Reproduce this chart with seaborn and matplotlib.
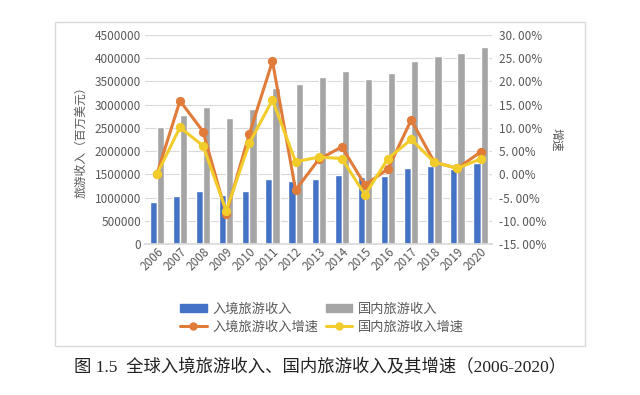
import numpy as np
import pandas as pd
import matplotlib
matplotlib.use("Agg")
import matplotlib.pyplot as plt
from matplotlib.patches import Rectangle
from matplotlib.lines import Line2D
import seaborn as sns

# data
years = [str(y) for y in range(2006, 2021)]
inbound = [900000, 1040000, 1140000, 1045000, 1140000, 1410000, 1360000, 1400000,
           1490000, 1440000, 1470000, 1640000, 1680000, 1620000, 1740000]
domestic = [2520000, 2770000, 2950000, 2720000, 2900000, 3360000, 3450000, 3590000,
            3720000, 3550000, 3670000, 3940000, 4050000, 4100000, 4240000]
inbound_growth = [0.0, 15.8, 9.2, -8.5, 8.7, 24.3, -3.4, 3.2,
                  5.9, -2.3, 1.2, 11.7, 2.6, 1.3, 4.8]
domestic_growth = [0.0, 10.1, 6.1, -7.8, 6.7, 16.0, 2.7, 3.7,
                   3.4, -4.4, 3.4, 7.5, 2.6, 1.3, 3.3]

bar_names = ["入境旅游收入", "国内旅游收入"]
line_names = ["入境旅游收入增速", "国内旅游收入增速"]
bar_colors = ["#4472C4", "#A5A5A5"]
line_colors = ["#E07B39", "#F2CC2A"]

df_bars = pd.DataFrame({"year": years * 2,
                        "value": inbound + domestic,
                        "series": [bar_names[0]] * 15 + [bar_names[1]] * 15})
df_lines = pd.DataFrame({"year": years * 2,
                         "value": inbound_growth + domestic_growth,
                         "series": [line_names[0]] * 15 + [line_names[1]] * 15})

sns.set_theme(style="white")
plt.rcParams["font.family"] = ["Noto Sans CJK SC", "DejaVu Sans"]
txt = "#595959"

fig = plt.figure(figsize=(6.4, 3.95), dpi=100)
ax = fig.add_axes([0.227, 0.382, 0.542, 0.53])

sns.barplot(data=df_bars, x="year", y="value", hue="series", palette=bar_colors,
            width=0.62, gap=0.0, ax=ax, legend=False, saturation=1)
ax.set_ylim(0, 4500000)
ax.set_yticks(np.arange(0, 4500001, 500000))
ax.set_yticklabels([str(v) for v in range(0, 4500001, 500000)], fontsize=8.5, color=txt)
ax.grid(axis="y", color="#D9D9D9", linewidth=0.8)
ax.set_axisbelow(True)
ax.set_xlabel("")
ax.set_ylabel("旅游收入（百万美元）", fontsize=8.5, color=txt, labelpad=5)
ax.tick_params(axis="x", labelsize=8.5, labelcolor=txt, rotation=45, pad=1, length=0)
ax.tick_params(axis="y", length=0, pad=3)
for lab in ax.get_xticklabels():
    lab.set_ha("right")
    lab.set_rotation_mode("anchor")
for s in ["top", "right", "left"]:
    ax.spines[s].set_visible(False)
ax.spines["bottom"].set_color("#D9D9D9")

ax2 = ax.twinx()
sns.pointplot(data=df_lines, x="year", y="value", hue="series", palette=line_colors,
              markers="o", markersize=5, linewidth=2.2, ax=ax2, legend=False)
ax2.set_ylim(-15, 30)
ax2.set_yticks(np.arange(-15, 31, 5))
ax2.set_yticklabels([f"{v:.2f}%".replace(".", ". ") for v in range(-15, 31, 5)],
                    fontsize=8.5, color=txt)
ax2.tick_params(axis="y", length=0, pad=5)
ax2.set_ylabel("增速", fontsize=8.5, color=txt, rotation=270, labelpad=12)
ax2.grid(False)
for s in ax2.spines.values():
    s.set_visible(False)
ax2.set_xlim(-0.5, 14.5)

handles = [Rectangle((0, 0), 1, 1, color=bar_colors[0]),
           Line2D([], [], color=line_colors[0], lw=2.2, marker="o", ms=5),
           Rectangle((0, 0), 1, 1, color=bar_colors[1]),
           Line2D([], [], color=line_colors[1], lw=2.2, marker="o", ms=5)]
labels = [bar_names[0], line_names[0], bar_names[1], line_names[1]]
fig.legend(handles, labels, ncol=2, loc="center", bbox_to_anchor=(0.503, 0.195),
           frameon=False, fontsize=9.5, labelcolor=txt, handlelength=2.0,
           handleheight=0.6, columnspacing=0.6, handletextpad=0.4, labelspacing=0.35)

# outer chart frame
fig.patches.append(Rectangle((55 / 640, 1 - 346 / 395), 530 / 640, 324 / 395,
                             transform=fig.transFigure, fill=False,
                             edgecolor="#D9D9D9", linewidth=1))

fig.text(0.5, 1 - 368 / 395, "图 1.5  全球入境旅游收入、国内旅游收入及其增速（2006-2020）",
         ha="center", va="center", fontsize=12.5, color="#222222",
         family=["Liberation Serif", "Noto Sans CJK SC"])

fig.savefig("out.png", dpi=100)
